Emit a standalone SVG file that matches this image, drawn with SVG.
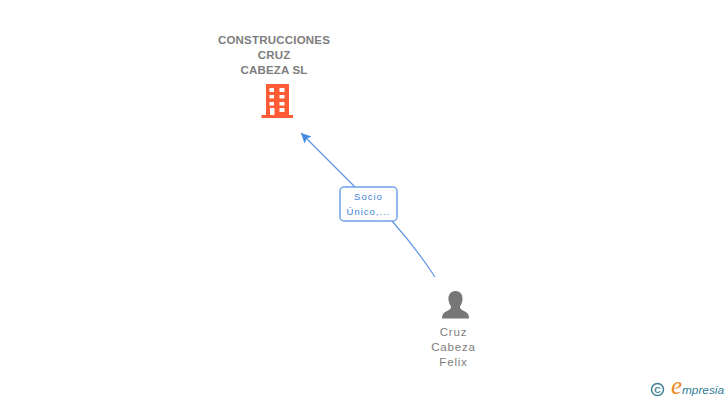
<svg xmlns="http://www.w3.org/2000/svg" width="728" height="400" viewBox="0 0 728 400">
<defs>
<marker id="arrow" markerUnits="userSpaceOnUse" markerWidth="12" markerHeight="12" refX="10" refY="5" orient="auto"><path d="M10 5L0 0L2 5L0 10Z" fill="#4a8ae0"/></marker>
</defs>
<style>
.n{font-family:"Liberation Sans",Arial,sans-serif;font-size:11.500px;fill:#7d7d7d;text-anchor:middle}
.b{font-weight:bold;letter-spacing:.2px}
.p{letter-spacing:.8px}
.l{font-family:"Liberation Sans",Arial,sans-serif;font-size:9.500px;fill:#3f7fdc;text-anchor:middle;letter-spacing:1px}
.c{fill:none;stroke:#5f97e2;stroke-width:1.200}
</style>
<rect width="728" height="400" fill="#fff"/>
<g id="connectors">
<path class="c" d="M355 187L301 133" marker-end="url(#arrow)"/>
<path class="c" d="M392 221Q416 248 435 277"/>
</g>
<g id="edge-label">
<rect x="340" y="187" width="57" height="34" rx="4" fill="#fff" stroke="#6fa2e6" stroke-width="1.500"/>
<text class="l" x="368.500" y="200">Socio</text>
<text class="l" x="368.500" y="215">Único,...</text>
</g>
<g id="company">
<text class="n b" x="274" y="44">CONSTRUCCIONES</text>
<text class="n b" x="274" y="59">CRUZ</text>
<text class="n b" x="274" y="74">CABEZA SL</text>
<path fill="#ff5c35" fill-rule="evenodd" d="M266 84H289V115H293V118H261.500V115H266ZM269.500 88V92H274V88ZM279.500 88V92H284.500V88ZM269.500 95V98.500H274V95ZM279.500 95V98.500H284.500V95ZM269.500 102V105.500H274V102ZM279.500 102V105.500H284.500V102ZM270 108V115H274.500V108ZM279.500 108V112H284.500V108Z"/>
</g>
<g id="person">
<path fill="#777" d="M455.500 291C460.500 291 463 295 462.500 300C462.200 303 460.800 305 459.800 307C460 309 462 310 465 311.500C468 313 469 315 469 318.500H442C442 315 443 313 446 311.500C449 310 451 309 451.200 307C450.200 305 448.800 303 448.500 300C448 295 450.500 291 455.500 291Z"/>
<text class="n p" x="453.500" y="336">Cruz</text>
<text class="n p" x="453.500" y="351">Cabeza</text>
<text class="n p" x="453.500" y="366">Felix</text>
</g>
<g id="brand">
<circle cx="657.500" cy="389.500" r="6" fill="none" stroke="#3f7f96" stroke-width="1.500"/>
<text x="657.500" y="393" font-family="Liberation Sans,Arial,sans-serif" font-size="9" font-weight="bold" fill="#3f7f96" text-anchor="middle">C</text>
<text x="671" y="394" font-family="Liberation Serif,serif" font-style="italic" font-size="25" fill="#f08a1d">e</text>
<text x="682" y="394" font-family="Liberation Sans,Arial,sans-serif" font-style="italic" font-size="11.800" fill="#2f7f94">mpresia</text>
</g>
</svg>
